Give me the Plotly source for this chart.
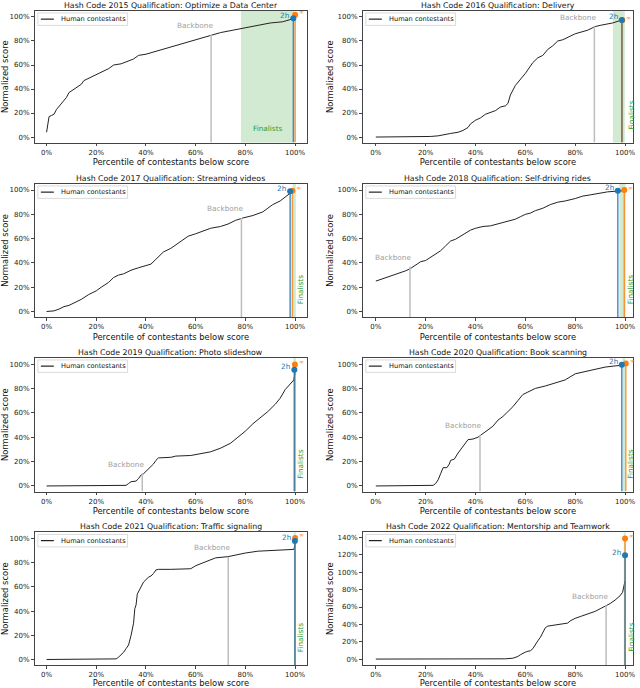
import plotly.graph_objects as go
from plotly.subplots import make_subplots

# ---- data (all values in percent) ----
titles = [
    "Hash Code 2015 Qualification: Optimize a Data Center",
    "Hash Code 2016 Qualification: Delivery",
    "Hash Code 2017 Qualification: Streaming videos",
    "Hash Code 2018 Qualification: Self-driving rides",
    "Hash Code 2019 Qualification: Photo slideshow",
    "Hash Code 2020 Qualification: Book scanning",
    "Hash Code 2021 Qualification: Traffic signaling",
    "Hash Code 2022 Qualification: Mentorship and Teamwork",
]

x2015 = [0, 0.5, 1, 2, 3, 4, 6, 8, 9, 12, 14, 15, 18, 20, 25, 27, 30, 35, 37, 40,
         45, 50, 55, 60, 66, 70, 75, 80, 85, 90, 95, 98, 100]
y2015 = [4, 10, 17, 18, 19, 23, 28, 33, 37, 41, 44, 47, 50, 52, 57, 60, 61, 65, 68, 69,
         72, 75, 78, 81, 85, 87, 89, 91, 93, 95, 96, 98, 99]

x2016 = [0, 20, 22, 25, 27, 30, 33, 35, 37, 38, 40, 42, 44, 46, 48, 50, 52, 53, 54, 56,
         58, 60, 62, 63, 65, 67, 69, 71, 73, 75, 78, 80, 85, 88, 90, 95, 98, 99]
y2016 = [0, 0, 0.5, 1, 2, 3, 4, 5.5, 8, 11, 14, 16, 19, 20.5, 22, 25, 26, 28, 35, 43,
         48, 53, 59, 62, 66, 68, 73, 76, 80, 81, 84, 86, 89, 92, 93, 95, 97, 98]

x2017 = [0, 3, 5, 7, 9, 11, 14, 17, 20, 22, 25, 27, 29, 31, 34, 37, 39, 42, 44, 47,
         50, 53, 55, 57, 60, 63, 66, 70, 73, 76, 79, 83, 87, 89, 91, 94, 96, 98, 99]
y2017 = [0, 0.5, 2, 4, 5, 7, 10, 14, 17, 20, 24, 28, 30, 31, 34, 36, 37, 39, 43, 49,
         52, 56, 59, 62, 64, 66, 68.5, 70, 72, 75, 77, 79, 82, 85, 88, 91, 94, 97, 99]

x2018 = [0, 3, 6, 9, 12, 14, 16, 18, 20, 23, 26, 28, 30, 32, 34, 36, 38, 40, 43, 46,
         50, 53, 56, 58, 60, 62, 64, 67, 70, 73, 76, 80, 83, 86, 90, 93, 96, 100]
y2018 = [25, 27, 29, 31, 33.5, 35.5, 38, 41, 42, 46, 50, 54, 58, 59.5, 62, 65, 67, 68.5, 70, 70.5,
         72.5, 74, 76, 78, 80, 81, 83, 85, 88, 90, 91, 93, 95, 96, 97.5, 98.5, 99, 99.5]

x2019 = [0, 30, 32, 33, 34, 36, 37, 38, 39, 40, 42, 43, 44, 45, 50, 52, 58, 62, 66, 70,
         74, 77, 80, 83, 86, 89, 92, 94, 96, 98, 99.5, 100]
y2019 = [0, 0, 0.5, 2, 3.5, 4, 6, 9, 10, 12, 16, 18, 21, 23, 23.5, 24.5, 25, 26.5, 28, 31,
         35, 40, 45, 51, 56, 61, 67, 72, 79, 84, 87, 93]

x2020 = [0, 22, 23, 24, 25, 26, 27, 28.5, 29.5, 30, 31.5, 33, 35, 37, 39, 41, 43, 45, 47, 49,
         51, 53, 55, 57, 59, 61, 64, 68, 72, 76, 80, 84, 88, 92, 96, 99]
y2020 = [0, 0, 0.5, 2, 5, 10, 15, 15, 18, 21, 22, 27, 33, 38, 38.5, 40, 43, 46, 49, 54,
         57, 61, 65, 70, 75, 77, 80, 82, 84.5, 87, 92, 94, 96, 97.5, 98.5, 99]

x2021 = [0, 27, 28, 29, 30, 31, 32, 33, 34, 35, 35.5, 36, 36.5, 37, 38, 39, 40, 41, 42, 43,
         44, 45, 50, 58, 60, 63, 66, 68, 73, 76, 80, 85, 90, 95, 99.5, 100]
y2021 = [0, 0, 0.5, 2, 4, 6, 9, 12, 20, 30, 42, 45, 54, 56, 60, 64, 66, 68, 69, 71,
         74, 74.5, 74.5, 75, 77.5, 80, 82, 84, 85, 86.5, 88, 89.5, 90, 90.3, 91, 95]

x2022 = [0, 48, 52, 55, 57, 58, 59, 60, 61, 62, 63, 64, 65, 66, 67, 68, 69, 71, 73, 75,
         77, 78, 80, 82, 84, 86, 88, 90, 92, 94, 96, 98, 99, 99.5, 100]
y2022 = [0, 0, 0.3, 1, 3, 5, 7, 8, 9, 9.5, 12, 17, 21, 25, 31, 36, 38, 39, 40, 41,
         41.5, 44, 47, 49, 51, 53, 55, 58, 61, 64, 68, 73, 77, 82, 90]

curves_x = [x2015, x2016, x2017, x2018, x2019, x2020, x2021, x2022]
curves_y = [y2015, y2016, y2017, y2018, y2019, y2020, y2021, y2022]

backbone_x = [66.2, 87.7, 78.4, 13.7, 38.5, 41.8, 73.1, 92.4]
backbone_y = [85, 92, 77, 37, 10, 42, 85, 62]
run2h_x = [99.3, 98.7, 98.0, 97.1, 99.7, 98.7, 99.9, 100.0]
run2h_y = [99, 97.5, 99, 99.5, 95.3, 99.5, 98, 119.8]
inf_x = [100.0, 98.9, 98.9, 99.7, 99.9, 100.3, 100.0, 100.0]
inf_y = [101.9, 97.3, 99.5, 100, 99.7, 100.5, 100.5, 139]
finalist_lo = [78.2, 95.1, 99.0, 97.7, 99.3, 99.0, 99.5, 99.5]
finalist_hi = [99.6, 99.9, 100.3, 100.2, 100.3, 100.0, 100.3, 100.3]

# ---- styling ----
FONT = "DejaVu Sans"
BLUE = "rgba(31,119,180,0.8)"
ORANGE = "rgba(255,127,14,0.8)"
GREEN = "#2ca02c"

W, H = 640, 688
col_px = [(35, 308), (364, 635)]
row_px = [(11, 143), (184.5, 318), (359, 493), (534, 667)]
xranges = [[-4.7, 104.8], [-5.2, 103.2]]

fig = make_subplots(rows=4, cols=2)

for i in range(8):
    r, c = i // 2, i % 2
    n = i + 1
    xa = "x" if n == 1 else f"x{n}"
    ya = "y" if n == 1 else f"y{n}"
    yr = [-6.9, 146] if i == 7 else [-4.6, 105]

    x0p, x1p = col_px[c]
    t0p, b0p = row_px[r]
    fw, fh = x1p - x0p, b0p - t0p
    xdom = [x0p / W, x1p / W]
    ydom = [1 - b0p / H, 1 - t0p / H]

    # finalists band
    fig.add_shape(type="rect", xref=xa, yref=f"{ya} domain",
                  x0=finalist_lo[i], x1=finalist_hi[i], y0=0, y1=1,
                  fillcolor="rgba(44,160,44,0.22)", line_width=0, layer="below")

    fig.add_trace(go.Scatter(x=curves_x[i], y=curves_y[i], mode="lines",
                             line=dict(color="#222", width=1),
                             name="Human contestants", showlegend=False),
                  row=r + 1, col=c + 1)
    fig.add_trace(go.Scatter(x=[backbone_x[i]] * 2, y=[yr[0], backbone_y[i]], mode="lines",
                             line=dict(color="#bdbdbd", width=1.5), showlegend=False),
                  row=r + 1, col=c + 1)
    fig.add_trace(go.Scatter(x=[inf_x[i]] * 2, y=[yr[0], inf_y[i]], mode="lines",
                             line=dict(color=ORANGE, width=1.5), showlegend=False),
                  row=r + 1, col=c + 1)
    fig.add_trace(go.Scatter(x=[run2h_x[i]] * 2, y=[yr[0], run2h_y[i]], mode="lines",
                             line=dict(color=BLUE, width=1.5), showlegend=False),
                  row=r + 1, col=c + 1)
    fig.add_trace(go.Scatter(x=[inf_x[i]], y=[inf_y[i]], mode="markers",
                             marker=dict(color="#ff7f0e", size=6), showlegend=False),
                  row=r + 1, col=c + 1)
    fig.add_trace(go.Scatter(x=[run2h_x[i]], y=[run2h_y[i]], mode="markers",
                             marker=dict(color="#1f77b4", size=6), showlegend=False),
                  row=r + 1, col=c + 1)

    # legend box (drawn by hand to get matplotlib's compact look)
    fig.add_shape(type="rect", xref=f"{xa} domain", yref=f"{ya} domain",
                  x0=3 / fw, x1=93 / fw, y0=1 - 14.5 / fh, y1=1 - 2 / fh,
                  line=dict(color="#d0d0d0", width=0.8), fillcolor="rgba(255,255,255,0.85)")
    fig.add_shape(type="line", xref=f"{xa} domain", yref=f"{ya} domain",
                  x0=6 / fw, x1=19 / fw, y0=1 - 8.2 / fh, y1=1 - 8.2 / fh,
                  line=dict(color="#222", width=1.2))
    fig.add_annotation(x=24 / fw, y=1 - 8.2 / fh, xref=f"{xa} domain", yref=f"{ya} domain",
                       text="Human contestants", showarrow=False, xanchor="left", yanchor="middle",
                       font=dict(size=6.6, color="#111", family=FONT))

    # labels
    fig.add_annotation(x=backbone_x[i], y=backbone_y[i], xref=xa, yref=ya,
                       text="Backbone", showarrow=False, xanchor="right", yanchor="middle",
                       xshift=3.5, yshift=9,
                       font=dict(size=7.3, color="#a0a0a0", family=FONT))
    fig.add_annotation(x=run2h_x[i], y=run2h_y[i], xref=xa, yref=ya,
                       text="2h", showarrow=False, xanchor="right", yanchor="middle",
                       xshift=-2, yshift=3, font=dict(size=7.3, color="#1f77b4", family=FONT))
    fig.add_annotation(x=inf_x[i], y=inf_y[i], xref=xa, yref=ya,
                       text="∞", showarrow=False, xanchor="left", yanchor="middle",
                       xshift=2, yshift=3, font=dict(size=6, color="#ff7f0e", family=FONT))
    if i == 0:
        fig.add_annotation(x=(finalist_lo[i] + finalist_hi[i]) / 2, y=7, xref=xa, yref=ya,
                           text="Finalists", showarrow=False,
                           font=dict(size=7.3, color=GREEN, family=FONT))
    else:
        fig.add_annotation(x=102.3, y=0, xref=xa, yref=ya, text="Finalists",
                           showarrow=False, textangle=-90, yanchor="bottom", yshift=5,
                           font=dict(size=7.3, color=GREEN, family=FONT))

    fig.add_annotation(x=0.5, y=1, xref=f"{xa} domain", yref=f"{ya} domain",
                       text=titles[i], showarrow=False, yanchor="bottom", yshift=-1,
                       font=dict(size=7.8, color="#111", family=FONT))

    axis_common = dict(showline=True, mirror=True, linecolor="#444", linewidth=0.8,
                       ticks="outside", ticklen=3, tickwidth=0.8, tickcolor="#444",
                       showgrid=False, zeroline=False, ticksuffix="%",
                       tickfont=dict(size=7, color="#222", family=FONT))
    fig.layout[f"xaxis{n}"].update(domain=xdom, range=xranges[c], dtick=20, tick0=0,
                                   title=dict(text="Percentile of contestants below score",
                                              font=dict(size=8.4, color="#111", family=FONT),
                                              standoff=3),
                                   **axis_common)
    fig.layout[f"yaxis{n}"].update(domain=ydom, range=yr, dtick=20, tick0=0,
                                   title=dict(text="Normalized score",
                                              font=dict(size=8.4, color="#111", family=FONT),
                                              standoff=2),
                                   **axis_common)

fig.update_layout(width=W, height=H, margin=dict(l=0, r=0, t=0, b=0),
                  plot_bgcolor="white", paper_bgcolor="white",
                  font=dict(family=FONT), showlegend=False)

fig.write_html("out.html", config={"displayModeBar": False},
               post_script="document.body.style.margin='0';")
